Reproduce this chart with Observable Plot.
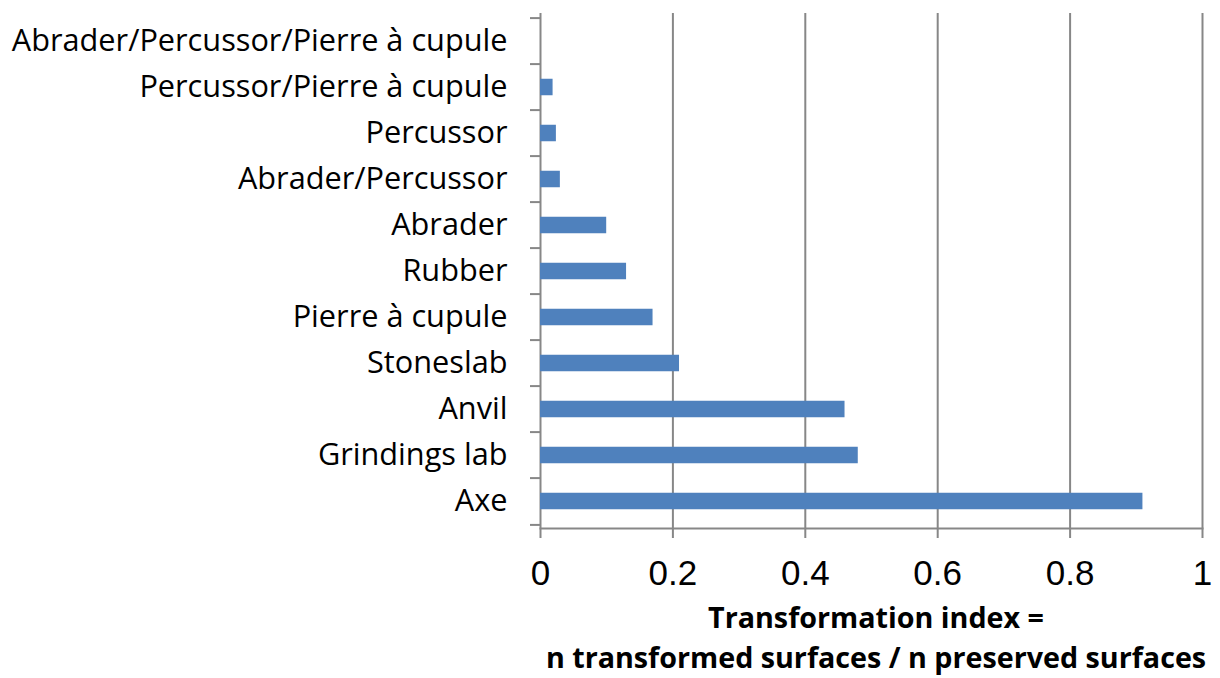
<!DOCTYPE html>
<html><head><meta charset="utf-8">
<script src="https://cdn.jsdelivr.net/npm/d3@7"></script>
<script src="https://cdn.jsdelivr.net/npm/@observablehq/plot@0.6"></script>
<style>
body{margin:0;background:#fff;}
#wrap{position:relative;width:1220px;height:678px;overflow:hidden;}
#title{position:absolute;left:532px;width:688px;top:597px;text-align:center;font-family:"Open Sans",sans-serif;font-weight:bold;font-size:28.7px;line-height:40px;color:#000;white-space:nowrap;}
</style>
</head><body><div id="wrap"><div id="chart"></div><div id="title"></div></div>
<script>
const categories = ["Abrader/Percussor/Pierre à cupule", "Percussor/Pierre à cupule", "Percussor", "Abrader/Percussor", "Abrader", "Rubber", "Pierre à cupule", "Stoneslab", "Anvil", "Grindings lab", "Axe"];
const values = [0, 0.019, 0.024, 0.03, 0.10, 0.13, 0.17, 0.21, 0.46, 0.48, 0.91];
const xTicks = [0, 0.2, 0.4, 0.6, 0.8, 1];
const titleLines = ["Transformation index =", "n transformed surfaces / n preserved surfaces"];

const data = categories.map((c, i) => ({category: c, value: values[i]}));
const W = 1220, H = 597, mt = 13, mb = 69, ml = 540, mr = 18;
const step = (H - mt - mb) / categories.length;
const grey = "#878787";

const chart = Plot.plot({
  width: W, height: H,
  marginTop: mt, marginBottom: mb, marginLeft: ml, marginRight: mr,
  style: {fontFamily: "'Open Sans', sans-serif", color: "#000", background: "#fff"},
  x: {domain: [0, 1]},
  y: {domain: categories, padding: 0},
  marks: [
    Plot.ruleX(xTicks, {stroke: grey, strokeWidth: 2}),
    Plot.frame({anchor: "bottom", stroke: grey, strokeWidth: 2}),
    Plot.ruleY(categories, {y: d => d, x1: 0, x2: 0, insetLeft: -10, dy: -step / 2, stroke: grey, strokeWidth: 2}),
    Plot.ruleY(categories.slice(-1), {y: d => d, x1: 0, x2: 0, insetLeft: -10, dy: step / 2, stroke: grey, strokeWidth: 2}),
    Plot.barX(data, {x: "value", y: "category", fill: "#4f81bd", insetTop: 14.75, insetBottom: 14.75}),
    Plot.axisX({ticks: xTicks, tickFormat: d => String(d), tickSize: 10, tickPadding: 22, stroke: grey, strokeWidth: 2, fill: "#000", fontSize: 35, fontFamily: "'Liberation Sans', Arial, sans-serif", label: null}),
    Plot.axisY({tickSize: 0, tickPadding: 33, fill: "#000", fontSize: 30.7, label: null})
  ]
});
document.getElementById("chart").appendChild(chart);
document.getElementById("title").innerHTML = titleLines.map(t => `<div>${t}</div>`).join("");
</script>
</body></html>
